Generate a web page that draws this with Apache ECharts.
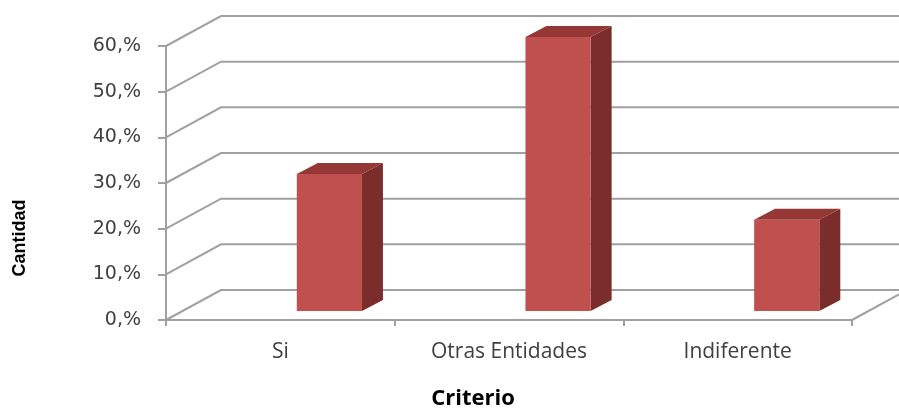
<!DOCTYPE html>
<html>
<head>
<meta charset="utf-8">
<script src="https://cdn.jsdelivr.net/npm/echarts@6/dist/echarts.min.js"></script>
<style>
html,body{margin:0;padding:0;background:#fff;}
#chart{width:899px;height:408px;}
</style>
</head>
<body>
<div id="chart"></div>
<script>
// ---- data ----
var categories = ['Si', 'Otras Entidades', 'Indiferente'];
var values = [0.30, 0.60, 0.20];
var yTicks = [0, 0.1, 0.2, 0.3, 0.4, 0.5, 0.6];
var xTitle = 'Criterio';
var yTitle = 'Cantidad';

// ---- style constants ----
var DEPTH = [55, -30];      // wall depth vector (px)
var BAR_DEPTH = [21, -11];  // bar depth vector (px)
var BAR_SHIFT = -9;         // bar front face shift up from front plane
var GRID_COLOR = '#a0a0a0';

var chart = echarts.init(document.getElementById('chart'));

function gridRender(params, api) {
  var v = api.value(0);
  var cs = params.coordSys;
  var y = api.coord([0, v])[1];
  var x0 = cs.x, x1 = cs.x + cs.width;
  var children = [{
    type: 'polyline',
    shape: { points: [[x0, y], [x0 + DEPTH[0], y + DEPTH[1]], [x1 + DEPTH[0], y + DEPTH[1]]] },
    style: { stroke: GRID_COLOR, lineWidth: 2, fill: null }
  }];
  if (v === 0) {
    children.push({
      type: 'line',
      shape: { x1: x1, y1: y, x2: x1 + DEPTH[0], y2: y + DEPTH[1] },
      style: { stroke: GRID_COLOR, lineWidth: 2 }
    });
  }
  return { type: 'group', children: children };
}

function barRender(params, api) {
  var i = api.value(0), v = api.value(1);
  var band = api.size([1, 0])[0];
  var top = api.coord([i, v]);
  var base = api.coord([i, 0]);
  var L = top[0] + 0.072 * band;
  var R = L + 0.285 * band;
  var yt = top[1] + BAR_SHIFT;
  var yb = base[1] + BAR_SHIFT;
  var dx = BAR_DEPTH[0], dy = BAR_DEPTH[1];
  return {
    type: 'group',
    children: [
      { type: 'polygon', shape: { points: [[R, yt], [R + dx, yt + dy], [R + dx, yb + dy], [R, yb]] },
        style: { fill: '#7b2d2b' } },
      { type: 'polygon', shape: { points: [[L, yt], [L + dx, yt + dy], [R + dx, yt + dy], [R, yt]] },
        style: { fill: '#953735' } },
      { type: 'rect', shape: { x: L, y: yt, width: R - L, height: yb - yt },
        style: { fill: '#c0504d' } }
    ]
  };
}

chart.setOption({
  animation: false,
  backgroundColor: '#ffffff',
  grid: { left: 166, right: 47, top: 46, bottom: 88 },
  xAxis: {
    type: 'category',
    data: categories,
    boundaryGap: true,
    axisLine: { lineStyle: { color: GRID_COLOR, width: 2 } },
    axisTick: { show: true, length: 6, lineStyle: { color: GRID_COLOR, width: 2 } },
    axisLabel: { margin: 22, color: '#404040', fontSize: 21, fontFamily: '"Open Sans", sans-serif' }
  },
  yAxis: {
    type: 'value',
    min: 0, max: 0.6, interval: 0.1,
    axisLine: { show: true, lineStyle: { color: GRID_COLOR, width: 2 } },
    axisTick: { show: true, length: 8, lineStyle: { color: GRID_COLOR, width: 2 } },
    splitLine: { show: false },
    axisLabel: {
      margin: 25, color: '#404040', fontSize: 19, fontFamily: '"DejaVu Sans", Verdana, sans-serif',
      formatter: function (v) { return Math.round(v * 100) + ',%'; }
    }
  },
  graphic: [
    { type: 'text', x: 473, y: 399, style: { text: xTitle, align: 'center', verticalAlign: 'middle',
      font: 'bold 22px "Open Sans", sans-serif', fill: '#000' } },
    { type: 'text', x: 20, y: 238, rotation: Math.PI / 2, style: { text: yTitle, align: 'center', verticalAlign: 'middle',
      font: 'bold 18px "Liberation Sans", Arial, sans-serif', fill: '#000' } }
  ],
  series: [
    { type: 'custom', name: 'grid', renderItem: gridRender, data: yTicks.map(function (t) { return [t]; }),
      encode: { y: 0 }, z: 1, silent: true, clip: false },
    { type: 'custom', name: 'bars', renderItem: barRender,
      data: values.map(function (v, i) { return [i, v]; }), encode: { x: 0, y: 1 }, z: 3, clip: false }
  ]
});
</script>
</body>
</html>
